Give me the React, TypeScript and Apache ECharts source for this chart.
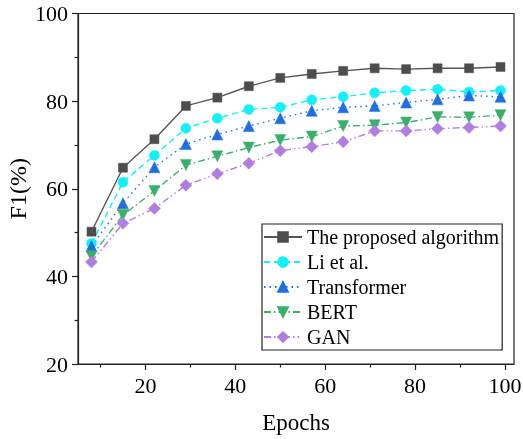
import React, { useEffect, useRef } from 'react';
import * as echarts from 'echarts';

const epochs = [8, 15, 22, 29, 36, 43, 50, 57, 64, 71, 78, 85, 92, 99];
const proposed = [50.2, 64.8, 71.3, 78.9, 80.8, 83.4, 85.3, 86.2, 86.9, 87.5, 87.3, 87.5, 87.5, 87.8];
const liEtAl = [47.5, 61.5, 67.6, 73.8, 76.1, 78.1, 78.6, 80.3, 81.0, 81.9, 82.4, 82.7, 82.1, 82.4];
const transformer = [46.9, 56.7, 64.9, 70.2, 72.4, 74.3, 76.1, 77.8, 78.6, 78.9, 79.7, 80.4, 81.3, 81.0];
const bert = [44.6, 54.0, 59.5, 65.4, 67.4, 69.4, 71.1, 71.9, 74.3, 74.5, 75.1, 76.4, 76.3, 76.8];
const gan = [43.3, 52.1, 55.5, 60.8, 63.4, 65.8, 68.7, 69.6, 70.7, 73.2, 73.2, 73.7, 74.0, 74.3];

const seriesNames = ['The proposed algorithm', 'Li et al.', 'Transformer', 'BERT', 'GAN'];
const xMajorTicks = [20, 40, 60, 80, 100];
const xMinorTicks = [10, 30, 50, 70, 90];

const FONT = "'Liberation Serif', 'Times New Roman', serif";

export default function App() {
  const ref = useRef<HTMLDivElement>(null);
  useEffect(() => {
    if (!ref.current) return;
    const chart = echarts.init(ref.current, null, { renderer: 'svg' });
    const pair = (ys: number[]) => epochs.map((x, i) => [x, ys[i]]);
    const mk = (name: string, ys: number[], color: string, lineColor: string, symbol: string, size: number, dash: any) => ({
      name,
      type: 'line',
      data: pair(ys),
      symbol,
      symbolSize: size,
      itemStyle: { color, borderColor: color, borderWidth: 0.5 },
      lineStyle: { color: lineColor, width: 1.4, type: dash },
      emphasis: { disabled: true },
    });
    const labelStyle = { fontFamily: FONT, fontSize: 22, color: '#000', fontWeight: 'normal' };
    chart.setOption({
      animation: false,
      textStyle: { fontFamily: FONT },
      grid: {
        left: 78, top: 13.5, right: 9, bottom: 75,
        outerBoundsMode: 'none', containLabel: false,
        show: true, borderColor: '#222', borderWidth: 1.2, backgroundColor: 'transparent',
      },
      legend: {
        orient: 'vertical',
        left: 262,
        top: 224,
        padding: [3, 3, 3, 1],
        itemGap: 5,
        itemWidth: 38,
        itemHeight: 12,
        borderColor: '#222',
        borderWidth: 1.2,
        textStyle: { fontFamily: FONT, fontSize: 20, color: '#000' },
        data: seriesNames,
      },
      xAxis: [
        {
          type: 'value',
          min: 5,
          max: 102,
          name: 'Epochs',
          nameLocation: 'middle',
          nameGap: 47,
          nameMoveOverlap: false,
          nameTextStyle: { fontFamily: FONT, fontSize: 23, color: '#000' },
          axisLine: { show: true, onZero: false, lineStyle: { color: '#222', width: 1.2 } },
          axisTick: { show: true, length: 6, customValues: xMajorTicks, lineStyle: { color: '#222', width: 1.2 } },
          axisLabel: { customValues: xMajorTicks, margin: 10, ...labelStyle },
          splitLine: { show: false },
        },
        {
          type: 'value',
          min: 5,
          max: 102,
          position: 'bottom',
          axisLine: { show: false },
          axisTick: { show: true, length: 3.5, customValues: xMinorTicks, lineStyle: { color: '#222', width: 1.2 } },
          axisLabel: { show: false },
          splitLine: { show: false },
        },
      ],
      yAxis: {
        type: 'value',
        min: 20,
        max: 100,
        interval: 20,
        name: 'F1(%)',
        nameLocation: 'middle',
        nameRotate: 90,
        nameGap: 48,
        nameMoveOverlap: false,
        nameTextStyle: { fontFamily: FONT, fontSize: 24, color: '#000' },
        axisLine: { show: true, lineStyle: { color: '#222', width: 1.2 } },
        axisTick: { show: true, length: 6, lineStyle: { color: '#222', width: 1.2 } },
        minorTick: { show: true, splitNumber: 2, length: 3.5, lineStyle: { color: '#222', width: 1.2 } },
        axisLabel: { margin: 10, ...labelStyle },
        splitLine: { show: false },
      },
      series: [
        mk(seriesNames[0], proposed, '#4d4d4d', '#555555', 'rect', 9, 'solid'),
        mk(seriesNames[1], liEtAl, '#12f0f8', '#12f0f8', 'circle', 10, [6, 4]),
        mk(seriesNames[2], transformer, '#1f6fe0', '#1f6fe0', 'triangle', 11, [1.5, 4]),
        mk(seriesNames[3], bert, '#3aae6a', '#3aae6a', 'path://M0,0 L10,0 L5,9 Z', 11, [7, 3, 1.5, 3]),
        mk(seriesNames[4], gan, '#b07ee0', '#b07ee0', 'diamond', 12, [7, 3, 1.5, 3, 1.5, 3]),
      ],
    });
    return () => chart.dispose();
  }, []);
  return <div ref={ref} style={{ position: 'fixed', left: 0, top: 0, width: 523, height: 439 }} />;
}
